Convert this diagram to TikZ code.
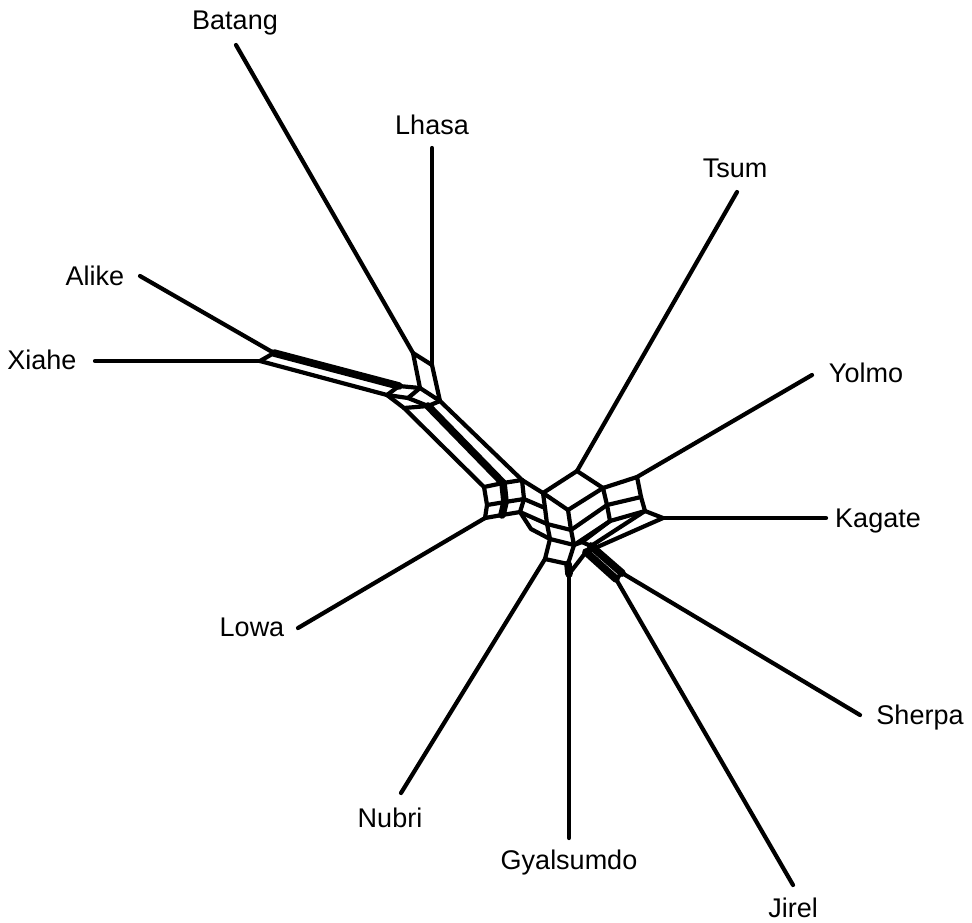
\documentclass[tikz,border=0pt]{standalone}
\usepackage{fontspec}
\setmainfont{Liberation Sans}
\begin{document}
\begin{tikzpicture}[x=0.5pt,y=-0.5pt,
  edge/.style={draw=black,line width=2.1pt,line join=round,line cap=round},
  fat/.style={draw=black,line width=3.8pt,line join=round,line cap=round},
  lab/.style={anchor=base,inner sep=0pt,font=\fontsize{13.5}{16}\selectfont}]
\useasboundingbox (0,0) rectangle (972,922);
% labels
\node[lab] (Bat) at (235,29) {Batang};
\node[lab] (Lha) at (432,134) {Lhasa};
\node[lab] (Tsu) at (735,177) {Tsum};
\node[lab] (Yol) at (866,382) {Yolmo};
\node[lab] (Kag) at (878,527) {Kagate};
\node[lab] (She) at (920,724) {Sherpa};
\node[lab] (Jir) at (793,917) {Jirel};
\node[lab] (Gya) at (569,869) {Gyalsumdo};
\node[lab] (Nub) at (390,827) {Nubri};
\node[lab] (Low) at (252,636) {Lowa};
\node[lab] (Xia) at (42,369) {Xiahe};
\node[lab] (Ali) at (95,285) {Alike};
% leaf tips
\coordinate (tBat) at (236,45);
\coordinate (tLha) at (432,148);
\coordinate (tTsu) at (737,192);
\coordinate (tYol) at (812,375);
\coordinate (tKag) at (826,518);
\coordinate (tShe) at (860,715);
\coordinate (tJir) at (793,885);
\coordinate (tGya) at (569,838);
\coordinate (tNub) at (401,793);
\coordinate (tLow) at (298,628);
\coordinate (tXia) at (95,361);
\coordinate (tAli) at (140,276);
% upper-left box
\coordinate (B1) at (413,353);
\coordinate (B2) at (432,365);
\coordinate (B3) at (420,388);
\coordinate (B4) at (440,401);
% left band
\coordinate (A1) at (274,353);
\coordinate (X1) at (260,361);
\coordinate (U2) at (399,386);
\coordinate (L2) at (387,395);
\coordinate (M2) at (408,398);
\coordinate (M3) at (428,406);
\coordinate (D1) at (404,408);
% hub L
\coordinate (H1) at (484,487);
\coordinate (H2) at (503,483);
\coordinate (H3) at (522,480);
\coordinate (G1) at (487,505);
\coordinate (G2) at (505,502);
\coordinate (G3) at (524,499);
\coordinate (K1) at (485,518);
\coordinate (K2) at (502,515);
\coordinate (K3) at (520,512);
% cube
\coordinate (CT) at (577,471);
\coordinate (CL) at (543,493);
\coordinate (CC) at (568,510);
\coordinate (CR) at (603,488);
\coordinate (R2) at (545,508);
\coordinate (V1) at (547,524);
\coordinate (V2) at (571,530);
\coordinate (V3) at (550,539);
\coordinate (V4) at (574,545);
\coordinate (V5) at (545,559);
\coordinate (V6) at (568,564);
\coordinate (Z) at (531,529);
% right box
\coordinate (MR) at (607,505);
\coordinate (CR2) at (610,521);
\coordinate (Y1) at (637,477);
\coordinate (MY) at (641,497);
\coordinate (Y2) at (645,511);
\coordinate (Kg) at (663,518);
% bottom hub
\coordinate (W1) at (582,542);
\coordinate (W2) at (591,546);
\coordinate (W3) at (586,552);
\coordinate (Js) at (622,573);
\coordinate (Jj) at (616,579);
\coordinate (S0) at (569,574);
% leaf edges
\draw[edge] (tBat) -- (B1);
\draw[edge] (tLha) -- (B2);
\draw[edge] (tTsu) -- (CT);
\draw[edge] (tYol) -- (Y1);
\draw[edge] (tKag) -- (Kg);
\draw[edge] (tShe) -- (Js);
\draw[edge] (tJir) -- (Jj);
\draw[edge] (tGya) -- (S0);
\draw[edge] (tNub) -- (V5);
\draw[edge] (tLow) -- (K1);
\draw[edge] (tXia) -- (X1);
\draw[edge] (tAli) -- (A1);
% upper-left box
\draw[edge] (B1) -- (B2) -- (B4) -- (B3) -- cycle;
% left band
\draw[edge] (A1) -- (X1);
\draw[fat] (A1) -- (U2);
\draw[edge] (X1) -- (L2);
\draw[edge] (U2) -- (B3);
\draw[edge] (L2) -- (M2) -- (M3) -- (B4);
\draw[edge] (U2) -- (L2);
\draw[edge] (B3) -- (M2);
\draw[edge] (L2) -- (D1) -- (M3);
% diagonal band
\draw[edge] (D1) -- (H1);
\draw[fat] (M3) -- (H2);
\draw[edge] (B4) -- (H3);
% hub L
\draw[edge] (H1) -- (H2) -- (H3);
\draw[edge] (G1) -- (G2) -- (G3);
\draw[edge] (K1) -- (K2) -- (K3);
\draw[edge] (H1) -- (G1) -- (K1);
\draw[fat] (H2) -- (G2) -- (K2);
\draw[edge] (H3) -- (G3) -- (K3);
% links hub L to cube column
\draw[edge] (H3) -- (CL);
\draw[edge] (G3) -- (R2);
\draw[edge] (K3) -- (V1);
\draw[edge] (K3) -- (Z) -- (V3);
% cube
\draw[edge] (CT) -- (CL) -- (CC) -- (CR) -- cycle;
\draw[edge] (CL) -- (R2) -- (V1) -- (V3) -- (V5) -- (V6) -- (V4) -- (V2) -- (CC);
\draw[edge] (V1) -- (V2);
\draw[edge] (V3) -- (V4);
% right box
\draw[edge] (V2) -- (MR);
\draw[edge] (V4) -- (CR2);
\draw[edge] (CR) -- (MR) -- (CR2) -- (Y2) -- (MY) -- (Y1) -- (CR);
\draw[edge] (MR) -- (MY);
\draw[edge] (Y2) -- (Kg);
% bottom hub
\draw[edge] (CR2) -- (W1);
\draw[edge] (V4) -- (W1);
\draw[edge] (Y2) -- (W2);
\draw[edge] (Kg) -- (W3);
\draw[edge] (W1) -- (W2) -- (W3);
\draw[fat] (W2) -- (Js);
\draw[fat] (W3) -- (Jj);
\draw[edge] (Js) -- (Jj);
\draw[fat] (V6) -- (S0);
\draw[edge] (W3) -- (S0);
\end{tikzpicture}
\end{document}
